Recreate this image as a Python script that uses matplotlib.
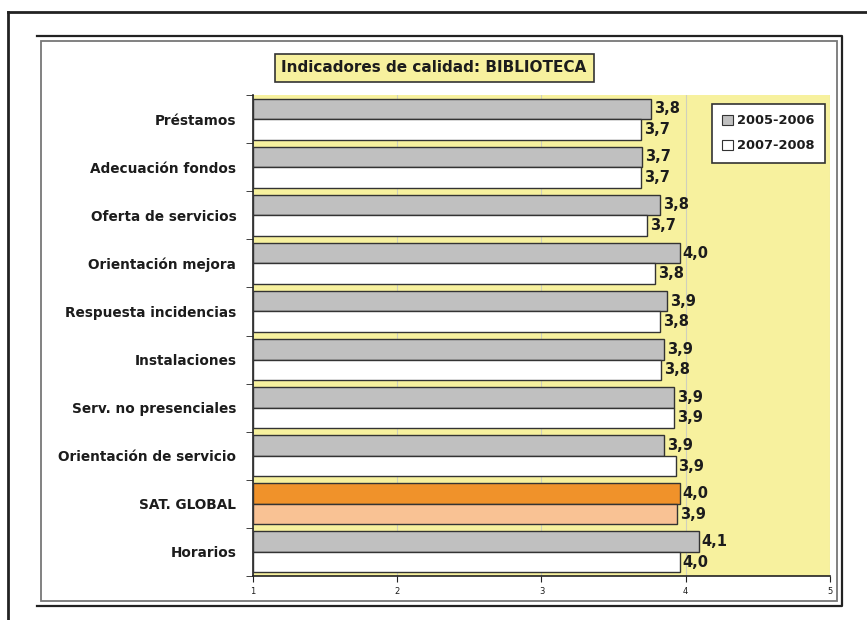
import numpy as np
import matplotlib
matplotlib.use("Agg")
import matplotlib.pyplot as plt
from matplotlib.lines import Line2D
from matplotlib.patches import Rectangle, Patch

categories = ['Préstamos', 'Adecuación fondos', 'Oferta de servicios',
              'Orientación mejora', 'Respuesta incidencias', 'Instalaciones',
              'Serv. no presenciales', 'Orientación de servicio',
              'SAT. GLOBAL', 'Horarios']
v_2005 = [3.76, 3.70, 3.82, 3.96, 3.87, 3.85, 3.92, 3.85, 3.96, 4.09]
v_2007 = [3.69, 3.69, 3.73, 3.79, 3.82, 3.83, 3.92, 3.93, 3.94, 3.96]
series = ['2005-2006', '2007-2008']
highlight = 'SAT. GLOBAL'

W, H = 867, 620
YELLOW = '#f7f19e'
GREY = '#c0c0c0'
EDGE = '#333333'
TXT = '#1c1c1c'


def fx(x):
    return x / W


def fy(y):
    return 1 - y / H


fig = plt.figure(figsize=(W / 100, H / 100), dpi=100)

# frame lines around the whole picture
fig.add_artist(Line2D([fx(8), fx(8)], [fy(12), fy(620)], color='#222222', lw=2))
fig.add_artist(Line2D([fx(8), fx(867)], [fy(12), fy(12)], color='#222222', lw=2))
fig.add_artist(Line2D([fx(37), fx(842), fx(842), fx(37)],
                      [fy(36), fy(36), fy(606), fy(606)], color='#222222', lw=1.6))
fig.add_artist(Rectangle((fx(41), fy(601)), fx(837) - fx(41), fy(41) - fy(601),
                         transform=fig.transFigure, fill=False,
                         edgecolor='#777777', lw=1.3))

ax = fig.add_axes([fx(253), fy(576), fx(830) - fx(253), fy(95) - fy(576)])
ax.set_facecolor(YELLOW)

y = np.arange(len(categories))
h = 0.427
c1 = ['#f0922a' if c == highlight else GREY for c in categories]
c2 = ['#f9c294' if c == highlight else 'white' for c in categories]
ax.barh(y - h / 2, np.array(v_2005) - 1, left=1, height=h, color=c1,
        edgecolor=EDGE, linewidth=1, zorder=3)
ax.barh(y + h / 2, np.array(v_2007) - 1, left=1, height=h, color=c2,
        edgecolor=EDGE, linewidth=1, zorder=3)

for i in range(len(categories)):
    for v, off in ((v_2005[i], -h / 2), (v_2007[i], h / 2)):
        ax.text(v + 0.02, y[i] + off, f'{v:.1f}'.replace('.', ','),
                va='center', ha='left', fontsize=10.5, fontweight='bold',
                color=TXT, zorder=4)

ax.set_xlim(1, 5)
ax.set_ylim(len(categories) - 0.5, -0.5)
ax.set_xticks([1, 2, 3, 4, 5])
ax.set_xticklabels(['1', '2', '3', '4', '5'], fontsize=6, color=TXT)
ax.set_yticks(y)
ax.set_yticklabels(categories, fontsize=9.8, fontweight='bold', color=TXT)
ax.set_yticks(np.arange(len(categories) + 1) - 0.5, minor=True)
ax.tick_params(axis='y', which='major', length=0, pad=12)
ax.tick_params(axis='y', which='minor', length=5, direction='out', color='#222222')
ax.tick_params(axis='x', length=4, direction='out', color='#222222', pad=4)
ax.grid(axis='x', color='#cfcfbd', lw=0.8, zorder=1)
for s in ('top', 'right'):
    ax.spines[s].set_visible(False)
ax.spines['left'].set_color('#222222')
ax.spines['bottom'].set_color('#222222')
ax.spines['left'].set_linewidth(1.2)
ax.spines['bottom'].set_linewidth(1.2)

handles = [Patch(facecolor=GREY, edgecolor=EDGE, lw=0.8),
           Patch(facecolor='white', edgecolor=EDGE, lw=0.8)]
leg = fig.legend(handles, series, loc='upper left',
                 bbox_to_anchor=(fx(712), fy(104)), borderaxespad=0,
                 frameon=True, fancybox=False, framealpha=1, handlelength=0.8,
                 handleheight=0.8, handletextpad=0.3, borderpad=0.8,
                 labelspacing=0.9, prop={'weight': 'bold', 'size': 9.4})
leg.get_frame().set_edgecolor('#333333')
leg.get_frame().set_facecolor('white')
leg.get_frame().set_linewidth(1.2)
for t in leg.get_texts():
    t.set_color(TXT)

fig.text(fx(434), fy(68), 'Indicadores de calidad: BIBLIOTECA', ha='center',
         va='center', fontsize=11, fontweight='bold', color=TXT,
         bbox=dict(boxstyle='square,pad=0.45', facecolor=YELLOW,
                   edgecolor='#333333', lw=1.2))

fig.savefig('out.png', dpi=100)
